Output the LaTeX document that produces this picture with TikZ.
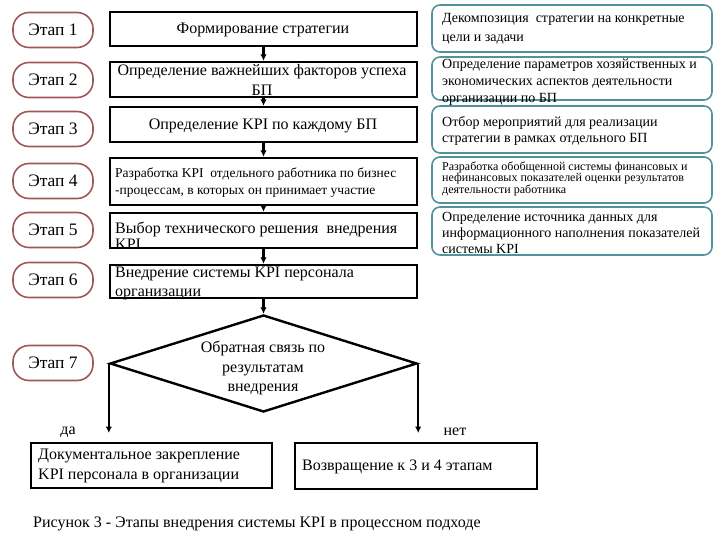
\documentclass[tikz,border=0pt]{standalone}
\usepackage{fontspec}
\setmainfont{Liberation Serif}
\usetikzlibrary{arrows.meta,shapes.geometric}
\definecolor{stagered}{HTML}{9E5656}
\definecolor{goalteal}{HTML}{52929C}

\begin{document}
\begin{tikzpicture}[x=1pt,y=-1pt,>={Latex[length=6.5pt,width=6.5pt]},
  stage/.style={draw=stagered,line width=1.6pt,rounded corners=16pt,
    minimum width=80pt,minimum height=35pt,inner sep=0pt,
    font=\fontsize{17.5}{20}\selectfont},
  box/.style={draw,line width=2.4pt,minimum width=307pt,inner sep=0pt},
  goal/.style={draw=goalteal,line width=1.6pt,rounded corners=8pt,
    minimum width=280pt,inner sep=0pt},
  txt/.style 2 args={inner sep=0pt,align=left,font=\fontsize{#1}{#2}\selectfont},
  arr/.style={->,line width=2.4pt}]
  \useasboundingbox (0,0) rectangle (720,540);
  % stages
  \foreach \n/\y in {1/30,2/80,3/129,4/181,5/230,6/280,7/363}
    \node[stage] (s\n) at (53,\y) {Этап \n};
  % process boxes
  \node[box,minimum height=34pt] (b1) at (263.5,29) {};
  \node[box,minimum height=35pt] (b2) at (263.5,79.5) {};
  \node[box,minimum height=35pt] (b3) at (263.5,124.5) {};
  \node[box,minimum height=47pt] (b4) at (263.5,181.5) {};
  \node[box,minimum height=35pt] (b5) at (263.5,230.5) {};
  \node[box,minimum height=33pt] (b6) at (263.5,281.5) {};
  \node[txt={16}{18}] (b1t) at (263,30) {Формирование стратегии};
  \node[txt={16}{20},align=center] (b2t) at (262,80) {Определение важнейших факторов успеха\\БП};
  \node[txt={16}{18}] (b3t) at (263,126) {Определение KPI по каждому БП};
  \node[txt={13.5}{17},anchor=west] (b4t) at (115,183) {Разработка KPI\ \ отдельного работника по бизнес\\-процессам, в которых он принимает участие};
  \node[txt={16}{16},anchor=west] (b5t) at (115,236) {Выбор технического решения\ \ внедрения\\KPI};
  \node[txt={16}{19},anchor=west] (b6t) at (115,283) {Внедрение системы KPI персонала\\организации};
  % goals
  \node[goal,minimum height=47pt] (g1) at (572,28.5) {};
  \node[goal,minimum height=43pt] (g2) at (572,78.5) {};
  \node[goal,minimum height=47pt] (g3) at (572,129.5) {};
  \node[goal,minimum height=46pt] (g4) at (572,180) {};
  \node[goal,minimum height=48pt] (g5) at (572,231) {};
  \node[txt={14}{19},anchor=west] (g1t) at (442,29) {Декомпозиция\ \ стратегии на конкретные\\цели и задачи};
  \node[txt={14}{17},anchor=west] (g2t) at (442,82) {Определение параметров хозяйственных и\\экономических аспектов деятельности\\организации по БП};
  \node[txt={14}{16},anchor=west] (g3t) at (442,131) {Отбор мероприятий для реализации\\стратегии в рамках отдельного БП};
  \node[txt={12}{11},anchor=west] (g4t) at (442,179) {Разработка обобщенной системы финансовых и\\нефинансовых показателей оценки результатов\\деятельности работника};
  \node[txt={14}{16},anchor=west] (g5t) at (442,233) {Определение источника данных для\\информационного наполнения показателей\\системы KPI};
  % feedback
  \node[draw,diamond,line width=2.4pt,minimum width=307pt,minimum height=97pt,
    inner sep=0pt,aspect=3.2] (fb) at (263.5,363.5) {};
  \node[txt={16}{19.5},align=center] (fbt) at (263,368) {Обратная связь по\\результатам\\внедрения};
  \node[box,minimum width=241pt,minimum height=45pt] (doc) at (151.5,465.5) {};
  \node[box,minimum width=242pt,minimum height=46pt] (back) at (416,466) {};
  \node[txt={16}{20},anchor=west] (doct) at (38,466) {Документальное закрепление\\KPI персонала в организации};
  \node[txt={16}{18},anchor=west] (backt) at (302,467) {Возвращение к 3 и 4 этапам};
  \coordinate (yesend) at (110,433);
  \coordinate (noend) at (417,433);
  \node[txt={16}{18}] (yes) at (68,432) {да};
  \node[txt={16}{18}] (no) at (455,432) {нет};
  \draw[arr] (b1.south) -- (b2.north);
  \draw[arr] (b2.south) -- (b3.north);
  \draw[arr] (b3.south) -- (b4.north);
  \draw[arr] (b4.south) -- (b5.north);
  \draw[arr] (b5.south) -- (b6.north);
  \draw[arr] (b6.south) -- (fb.north);
  \draw[arr] (fb.west) -- (fb.west |- yesend);
  \draw[arr] (fb.east) -- (fb.east |- noend);
  \node[txt={16}{18},anchor=west] (cap) at (33,524) {Рисунок 3 - Этапы внедрения системы KPI в процессном подходе};
\end{tikzpicture}
\end{document}
